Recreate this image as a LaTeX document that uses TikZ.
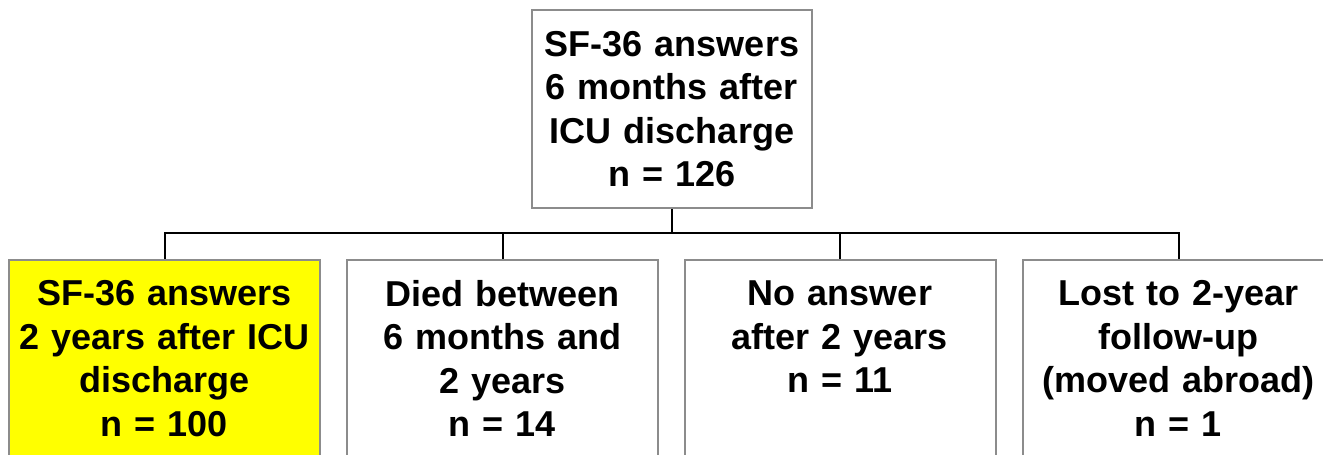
\documentclass[tikz,border=0pt]{standalone}
\usepackage{fontspec}
\setmainfont{Liberation Sans}
\definecolor{boxgray}{HTML}{8C8C8C}
\definecolor{hiyellow}{HTML}{FFFF00}
\tikzset{
  boxnode/.style={draw=boxgray, line width=2pt, fill=white, inner sep=0pt,
    align=center, font=\bfseries\fontsize{36}{43.5}\selectfont},
  topbox/.style={boxnode, minimum width=280pt, minimum height=198pt, text width=278pt},
  lowbox/.style={boxnode, minimum width=311pt, minimum height=198pt, text width=309pt},
  conn/.style={draw=black, line width=2pt}
}
\begin{document}
\begin{tikzpicture}[x=1pt,y=-1pt]
\path[use as bounding box, clip] (0,0) rectangle (1323,455);
\fill[white] (0,0) rectangle (1323,455);
\node[topbox] (top) at (672,109) {SF-36 answers\\6 months after\\ICU discharge\\n = 126};
\coordinate (bus) at (672,233);
\node[lowbox, fill=hiyellow] (b1) at (164.5,358.5) {SF-36 answers\\2 years after ICU\\discharge\\n = 100};
\node[lowbox] (b2) at (502.5,358.5) {Died between\\6 months and\\2 years\\n = 14};
\node[lowbox] (b3) at (840,358.5) {No answer\\after 2 years\\n = 11\\\phantom{n}};
\node[lowbox] (b4) at (1178.5,358.5) {Lost to 2-year\\follow-up\\(moved abroad)\\n = 1};
\draw[conn] (top.south) -- (bus);
\draw[conn] (b1.north) -- (b1.north |- bus) -- (b4.north |- bus) -- (b4.north);
\draw[conn] (b2.north) -- (b2.north |- bus);
\draw[conn] (b3.north) -- (b3.north |- bus);
\end{tikzpicture}
\end{document}
